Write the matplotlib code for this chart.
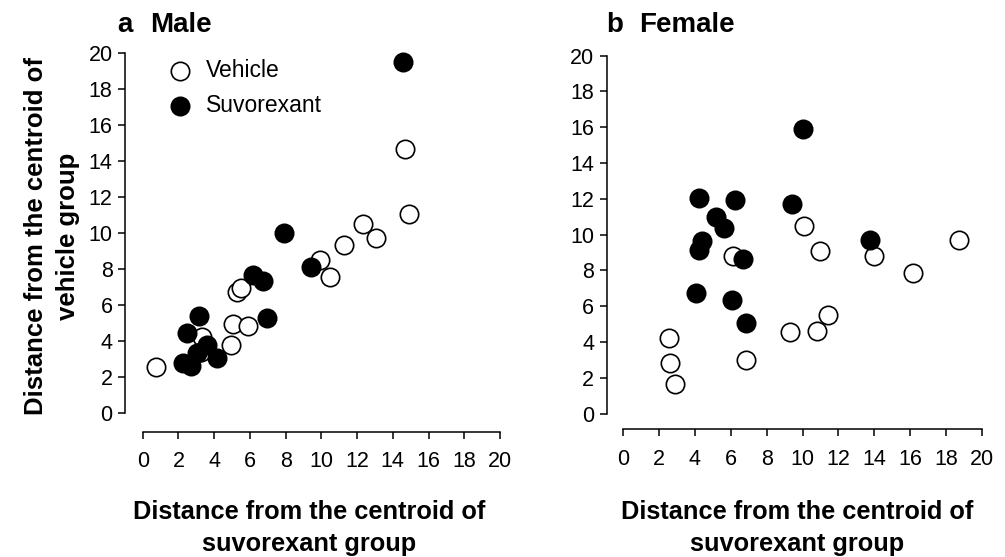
import matplotlib
matplotlib.use("Agg")
import matplotlib.pyplot as plt

plt.rcParams['font.family'] = ['Liberation Sans', 'DejaVu Sans']

# ---- data (x: distance from suvorexant centroid, y: distance from vehicle centroid)
male_veh_x = [0.75, 14.68, 14.93, 12.35, 13.06, 11.29, 9.93, 10.49, 5.26, 5.49, 5.07, 5.91, 4.92, 3.30, 3.28]
male_veh_y = [2.52, 14.68, 11.08, 10.48, 9.74, 9.31, 8.50, 7.55, 6.70, 6.92, 4.92, 4.83, 3.77, 4.23, 3.38]
male_suv_x = [14.55, 7.93, 9.42, 6.16, 6.72, 6.98, 3.17, 2.50, 3.61, 3.02, 4.14, 2.27, 2.69]
male_suv_y = [19.50, 10.02, 8.13, 7.64, 7.33, 5.29, 5.38, 4.42, 3.77, 3.31, 3.06, 2.75, 2.60]

female_veh_x = [10.10, 10.96, 6.14, 13.99, 16.19, 18.73, 11.44, 10.81, 9.32, 6.85, 2.55, 2.60, 2.90]
female_veh_y = [10.46, 9.06, 8.80, 8.80, 7.83, 9.69, 5.53, 4.63, 4.56, 2.98, 4.20, 2.81, 1.66]
female_suv_x = [10.05, 4.22, 6.23, 9.41, 5.17, 5.62, 4.41, 4.22, 6.70, 13.77, 4.06, 6.08, 6.85]
female_suv_y = [15.93, 12.07, 11.96, 11.70, 11.00, 10.38, 9.64, 9.13, 8.61, 9.71, 6.75, 6.33, 5.08]

ticks = [0, 2, 4, 6, 8, 10, 12, 14, 16, 18, 20]
group_labels = ["Vehicle", "Suvorexant"]
panel_letters = ["a", "b"]
panel_names = ["Male", "Female"]
xlabel_text = "Distance from the centroid of\nsuvorexant group"
ylabel_text = "Distance from the centroid of\nvehicle group"

W, H = 1005, 557
fig = plt.figure(figsize=(W / 100, H / 100), dpi=100)

def px_axes(x0, x1, y_top, y_bot):
    return fig.add_axes([x0 / W, 1 - y_bot / H, (x1 - x0) / W, (y_bot - y_top) / H])

ax_m = px_axes(142.7, 500.0, 53.3, 412.7)
ax_f = px_axes(623.3, 981.7, 55.7, 413.5)

panels = [
    (ax_m, male_veh_x, male_veh_y, male_suv_x, male_suv_y, 12.7, 13.7),
    (ax_f, female_veh_x, female_veh_y, female_suv_x, female_suv_y, 12.0, 11.4),
]

ms = 175
for ax, vx, vy, sx, sy, loff, boff in panels:
    ax.scatter(vx, vy, s=ms, facecolor='white', edgecolor='black', linewidth=1.2,
               label=group_labels[0], clip_on=False, zorder=3)
    ax.scatter(sx, sy, s=ms, facecolor='black', edgecolor='black', linewidth=1.2,
               label=group_labels[1], clip_on=False, zorder=4)
    ax.set_xlim(0, 20)
    ax.set_ylim(0, 20)
    ax.set_xticks(ticks)
    ax.set_yticks(ticks)
    for s in ['top', 'right']:
        ax.spines[s].set_visible(False)
    ax.spines['left'].set_position(('outward', loff))
    ax.spines['bottom'].set_position(('outward', boff))
    ax.spines['left'].set_bounds(0, 20)
    ax.spines['bottom'].set_bounds(0, 20)
    for s in ['left', 'bottom']:
        ax.spines[s].set_linewidth(1.1)
    ax.tick_params(axis='both', direction='out', length=5, width=1.1,
                   labelsize=15.5, colors='black')
    ax.tick_params(axis='x', pad=9)
    ax.tick_params(axis='y', pad=4)
    ax.patch.set_alpha(0)

leg = ax_m.legend(loc='upper left', bbox_to_anchor=(0.072, 0.985), frameon=False,
                  fontsize=16.5, handlelength=1.0, handletextpad=0.65,
                  labelspacing=0.55, borderpad=0.0, borderaxespad=0.0,
                  scatterpoints=1)

# titles
for letter, name, xl, xn in [(panel_letters[0], panel_names[0], 117, 150),
                             (panel_letters[1], panel_names[1], 606, 639)]:
    fig.text(xl / W, 1 - 32 / H, letter, fontsize=20, fontweight='bold', va='baseline', ha='left')
    fig.text(xn / W, 1 - 32 / H, name, fontsize=20, fontweight='bold', va='baseline', ha='left')

# axis labels
for cx in [309, 797]:
    fig.text(cx / W, 1 - 528 / H, xlabel_text, fontsize=18.3, fontweight='bold',
             ha='center', va='center', multialignment='center', linespacing=1.38)
fig.text(52 / W, 1 - 236 / H, ylabel_text, fontsize=18.5, fontweight='bold', rotation=90,
         ha='center', va='center', multialignment='center', linespacing=1.38)

fig.savefig('out.png', dpi=100)
